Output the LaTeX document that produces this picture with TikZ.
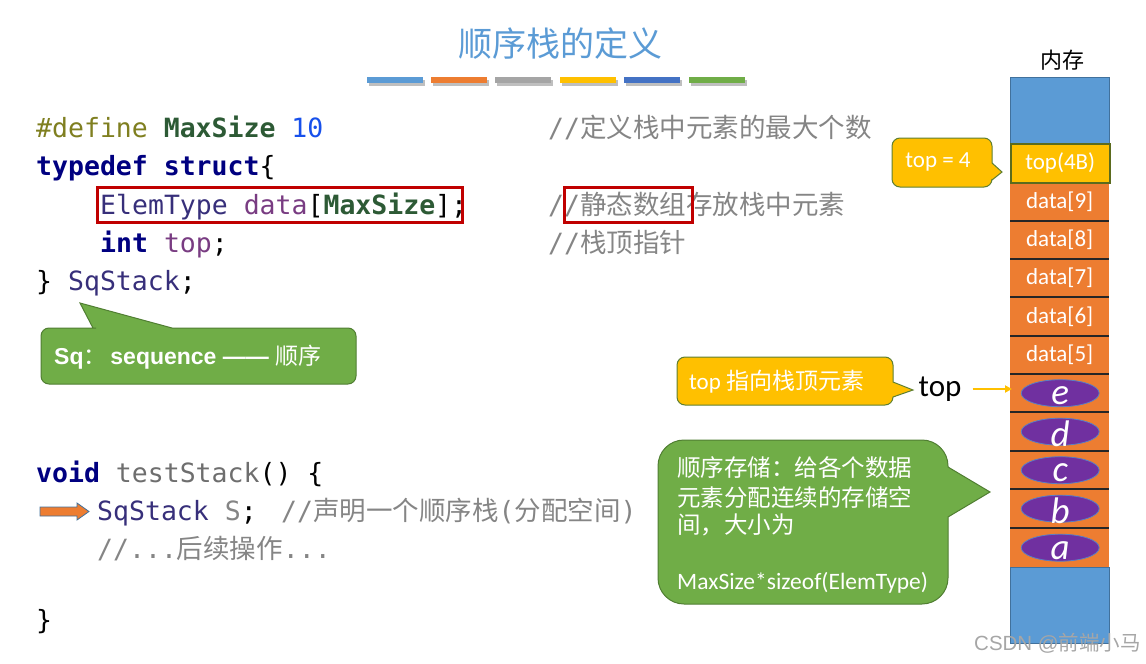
\documentclass[tikz,border=0pt]{standalone}
\usepackage{fontspec}
\setmainfont{Carlito}
\newfontfamily\cjk{Noto Sans CJK SC}
\newfontfamily\mono{DejaVu Sans Mono}
\newfontfamily\arialf{Liberation Sans}
\usetikzlibrary{shapes.geometric,arrows.meta}
\newcommand\myfs[1]{\fontsize{#1}{#1}\selectfont}
\definecolor{cblue}{HTML}{5B9BD5}
\definecolor{corange}{HTML}{ED7D31}
\definecolor{cgray}{HTML}{A5A5A5}
\definecolor{cyellow}{HTML}{FFC000}
\definecolor{cdblue}{HTML}{4472C4}
\definecolor{cgreen}{HTML}{70AD47}
\definecolor{gborder}{HTML}{507E32}
\definecolor{yborder}{HTML}{5E7F32}
\definecolor{bborder}{HTML}{41719C}
\definecolor{cpurple}{HTML}{7030A0}
\definecolor{ellborder}{HTML}{5A7FC4}
\definecolor{credbox}{HTML}{C00000}
\definecolor{kw}{HTML}{000080}
\definecolor{pp}{HTML}{7F7F20}
\definecolor{mac}{HTML}{2D5A35}
\definecolor{num}{HTML}{1750EB}
\definecolor{typ}{HTML}{372F7A}
\definecolor{fld}{HTML}{793C82}
\definecolor{cmt}{HTML}{858585}
\definecolor{tst}{HTML}{6E6E6E}
\definecolor{topcellb}{HTML}{5B6B1E}
\begin{document}
\begin{tikzpicture}[x=1pt,y=-1pt,
  codeln/.style={anchor=base west, inner sep=0, font=\mono\myfs{26.5}},
  cmtln/.style={codeln, text=cmt},
  redbox/.style={draw=credbox, line width=3},
  memblue/.style={anchor=north west, fill=cblue, draw=bborder, line width=0.8, minimum width=99, inner sep=0},
  datacell/.style={anchor=north west, fill=corange, minimum width=99, inner sep=0, text=white, font=\myfs{23}},
  topcell/.style={anchor=north west, fill=cyellow, draw=topcellb, line width=1.5, minimum width=99, inner sep=0, text=white, font=\myfs{23}},
  sepline/.style={draw=black!85, line width=1.2},
  ellp/.style={ellipse, draw=ellborder, fill=cpurple, line width=0.8, minimum width=78, minimum height=27, inner sep=0},
  lett/.style={font=\itshape\myfs{37}, text=white, inner sep=0},
  ycall/.style={fill=cyellow, draw=yborder, line width=1},
  gcall/.style={fill=cgreen, draw=gborder, line width=1},
  calltext/.style={text=white, inner sep=0},
  ptr/.style={draw=cyellow, line width=2, -{Triangle[length=7,width=7]}}
]
\useasboundingbox (0,0) rectangle (1146,664);

% title
\node[font=\cjk\myfs{34}, text=cblue, inner sep=0] (title) at (560,44) {顺序栈的定义};
\foreach \x/\c in {367/cblue,431/corange,495/cgray,560/cyellow,624/cdblue,689/cgreen}{
  \fill[black!25] (\x+2,80) rectangle (\x+58,86);
  \fill[\c] (\x,77) rectangle (\x+56,83);
}

% code, upper part
\node[codeln] (l1) at (36,137) {{\color{pp}\#define} {\bfseries\color{mac}MaxSize} {\color{num}10}};
\node[codeln] (l2) at (36,175) {{\bfseries\color{kw}typedef struct}\{};
\node[codeln] (l3) at (100,214) {{\color{typ}ElemType} {\color{fld}data}[{\bfseries\color{mac}MaxSize}];};
\node[codeln] (l4) at (100,252) {{\bfseries\color{kw}int} {\color{fld}top};};
\node[codeln] (l5) at (36,290) {\} {\color{typ}SqStack};};
\node[cmtln] (c1) at (548,137) {//{\cjk 定义栈中元素的最大个数}};
\node[cmtln] (c3) at (548,214) {//{\cjk 静态数组存放栈中元素}};
\node[cmtln] (c4) at (548,252) {//{\cjk 栈顶指针}};
\draw[redbox] (97,187) rectangle (462,222);
\draw[redbox] (564,187) rectangle (692,222);

% code, lower part
\node[codeln] (l6) at (36,482) {{\bfseries\color{kw}void} {\color{tst}testStack}() \{};
\node[codeln] (l7) at (97,520) {{\color{typ}SqStack} {\color{cmt}S};};
\node[cmtln] (c7) at (281,520) {//{\cjk 声明一个顺序栈}({\cjk 分配空间})};
\node[cmtln] (l8) at (97,558) {//...{\cjk 后续操作}...};
\node[codeln] (l9) at (36,629) {\}};
\draw[fill=corange, draw=bborder, line width=0.8] (40,507) -- (77,507) -- (77,503) -- (89,511.5) -- (77,520) -- (77,516) -- (40,516) -- cycle;

% Sq callout
\draw[gcall] (250,328) [rounded corners=8] -- (356,328) -- (356,384) -- (41,384) -- (41,328) -- (88,328) [sharp corners] -- (93,328) -- (80,303) -- (172,328) -- cycle;
\node[calltext, anchor=west, font=\arialf\bfseries\myfs{23}] (sqtxt) at (54,357) {Sq{\cjk\mdseries ：}\,sequence —— {\cjk\mdseries 顺序}};

% memory column
\node[font=\cjk\myfs{22}, inner sep=0] (memlbl) at (1062,60) {内存};
\node[memblue, minimum height=66] (mtop) at (1010,77) {};
\node[datacell, minimum height=39] (c9) at (1010,182) {data[9]};
\node[datacell, minimum height=38] (c8) at (1010,221) {data[8]};
\node[datacell, minimum height=38] (c7c) at (1010,259) {data[7]};
\node[datacell, minimum height=39] (c6) at (1010,297) {data[6]};
\node[datacell, minimum height=38] (c5) at (1010,336) {data[5]};
\node[datacell, minimum height=38] (ce) at (1010,374) {};
\node[datacell, minimum height=39] (cd) at (1010,412) {};
\node[datacell, minimum height=38] (cc) at (1010,451) {};
\node[datacell, minimum height=39] (cb) at (1010,489) {};
\node[datacell, minimum height=39] (ca) at (1010,528) {};
\node[memblue, minimum height=76] (mbot) at (1010,567) {};
\node[topcell, minimum height=39] (ctop) at (1010,143) {top(4B)};
\foreach \n in {c8,c7c,c6,c5,ce,cd,cc,cb,ca}{
  \draw[sepline] (\n.north west) -- (\n.north east);
}
\foreach \n/\l in {ce/e,cd/d,cc/c,cb/b,ca/a}{
  \node[ellp] (e\n) at ([xshift=0.5]\n.center) {};
  \node[lett] (t\n) at ([yshift=-2.5]e\n.center) {\l};
}

% callouts on the right
\draw[ycall] (940,138) [rounded corners=8] -- (992,138) [sharp corners] -- (992,163) -- (1002,172) -- (992,180) [rounded corners=8] -- (992,187) -- (892,187) -- (892,138) -- cycle;
\node[calltext, font=\myfs{23}] (t4) at (938,162) {top = 4};

\draw[ycall] (785,357) [rounded corners=8] -- (893,357) [sharp corners] -- (893,382) -- (913,390) -- (893,397) [rounded corners=8] -- (893,405) -- (677,405) -- (677,357) -- cycle;
\node[calltext, anchor=west, font=\myfs{23}] (tpt) at (689,382) {top {\cjk 指向栈顶元素}};

\node[font=\myfs{31}, inner sep=0] (toplbl) at (940,389) {top};
\draw[ptr] ([xshift=11]toplbl.east) -- ([xshift=2]toplbl.east -| ce.west);

\draw[gcall] (800,440) [rounded corners=26] -- (948,440) [sharp corners] -- (948,467) -- (990,492) -- (948,517) [rounded corners=26] -- (948,604) -- (658,604) -- (658,440) -- cycle;
\node[calltext, anchor=base west, font=\cjk\myfs{23.5}] (g1) at (677,476) {顺序存储：给各个数据};
\node[calltext, anchor=base west, font=\cjk\myfs{23.5}] (g2) at (677,506) {元素分配连续的存储空};
\node[calltext, anchor=base west, font=\cjk\myfs{23.5}] (g3) at (677,533) {间，大小为};
\node[calltext, anchor=base west, font=\myfs{23.5}] (g4) at (677,589) {MaxSize*sizeof(ElemType)};

% watermark
\node[anchor=base east, font=\arialf\myfs{20.5}, text=black!35, inner sep=0] (wm) at (1141,650) {CSDN @{\cjk 前端小马}};
\end{tikzpicture}
\end{document}
